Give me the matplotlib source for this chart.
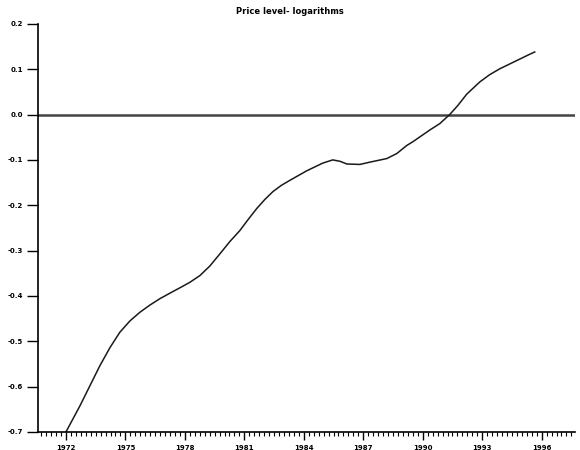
import matplotlib
matplotlib.use("Agg")
import matplotlib.pyplot as plt
from matplotlib.ticker import MultipleLocator
import numpy as np

title = "Price level- logarithms"
years = [1972.00, 1972.71, 1973.21, 1973.71, 1974.22, 1974.72, 1975.23, 1975.73,
         1976.24, 1976.74, 1977.24, 1977.75, 1978.25, 1978.76, 1979.26, 1979.77,
         1980.27, 1980.77, 1981.20, 1981.63, 1982.04, 1982.44, 1982.87, 1983.30,
         1984.15, 1984.96, 1985.46,
         1985.82, 1986.17, 1986.83, 1987.33, 1988.19, 1988.69, 1989.20, 1989.50,
         1990.36, 1990.86, 1991.36, 1991.77, 1992.22, 1992.88, 1993.38, 1993.89,
         1994.74, 1995.40, 1995.65]
price = [-0.700, -0.642, -0.598, -0.554, -0.514, -0.480, -0.455, -0.436,
         -0.420, -0.406, -0.394, -0.382, -0.370, -0.355, -0.334, -0.307,
         -0.280, -0.256, -0.231, -0.207, -0.187, -0.170, -0.156, -0.145,
         -0.124, -0.107, -0.100,
         -0.103, -0.109, -0.110, -0.105, -0.097, -0.086, -0.068, -0.060,
         -0.034, -0.020, 0.000, 0.020, 0.045, 0.072, 0.088, 0.101,
         0.119, 0.133, 0.138]
xticks = [1972, 1975, 1978, 1981, 1984, 1987, 1990, 1993, 1996]
yticks = [0.2, 0.1, 0.0, -0.1, -0.2, -0.3, -0.4, -0.5, -0.6, -0.7]
ylabels = ["0.2", "0.1", "0.0", "-0.1", "-0.2", "-0.3", "-0.4", "-0.5", "-0.6", "-0.7"]

fig = plt.figure(figsize=(5.8, 4.5), dpi=100)
ax = fig.add_axes([0.0655, 0.04, 0.9255, 0.907])
ax.axhline(0.0, color="#444444", lw=1.8, zorder=1)
ax.plot(years, price, color="#1a1a1a", lw=1.1, zorder=2)

ax.set_xlim(1972 - 1.41, 1972 + 25.67)
ax.set_ylim(-0.7, 0.2)
ax.set_xticks(xticks)
ax.set_xticklabels([str(y) for y in xticks])
ax.xaxis.set_minor_locator(MultipleLocator(0.25))
ax.set_yticks(yticks)
ax.set_yticklabels(ylabels)
for s in ["top", "right"]:
    ax.spines[s].set_visible(False)
ax.spines["left"].set_linewidth(1.2)
ax.spines["bottom"].set_linewidth(1.2)
ax.tick_params(axis="both", which="major", labelsize=5, width=1.0, length=6, direction="out", pad=3)
ax.tick_params(axis="x", which="minor", length=3, width=0.8, direction="out")
ax.tick_params(axis="y", which="major", length=8)
for lab in ax.get_xticklabels() + ax.get_yticklabels():
    lab.set_fontweight("bold")
fig.text(0.5, 0.985, title, ha="center", va="top", fontsize=6, fontweight="bold")
fig.savefig("out.png", dpi=100)
